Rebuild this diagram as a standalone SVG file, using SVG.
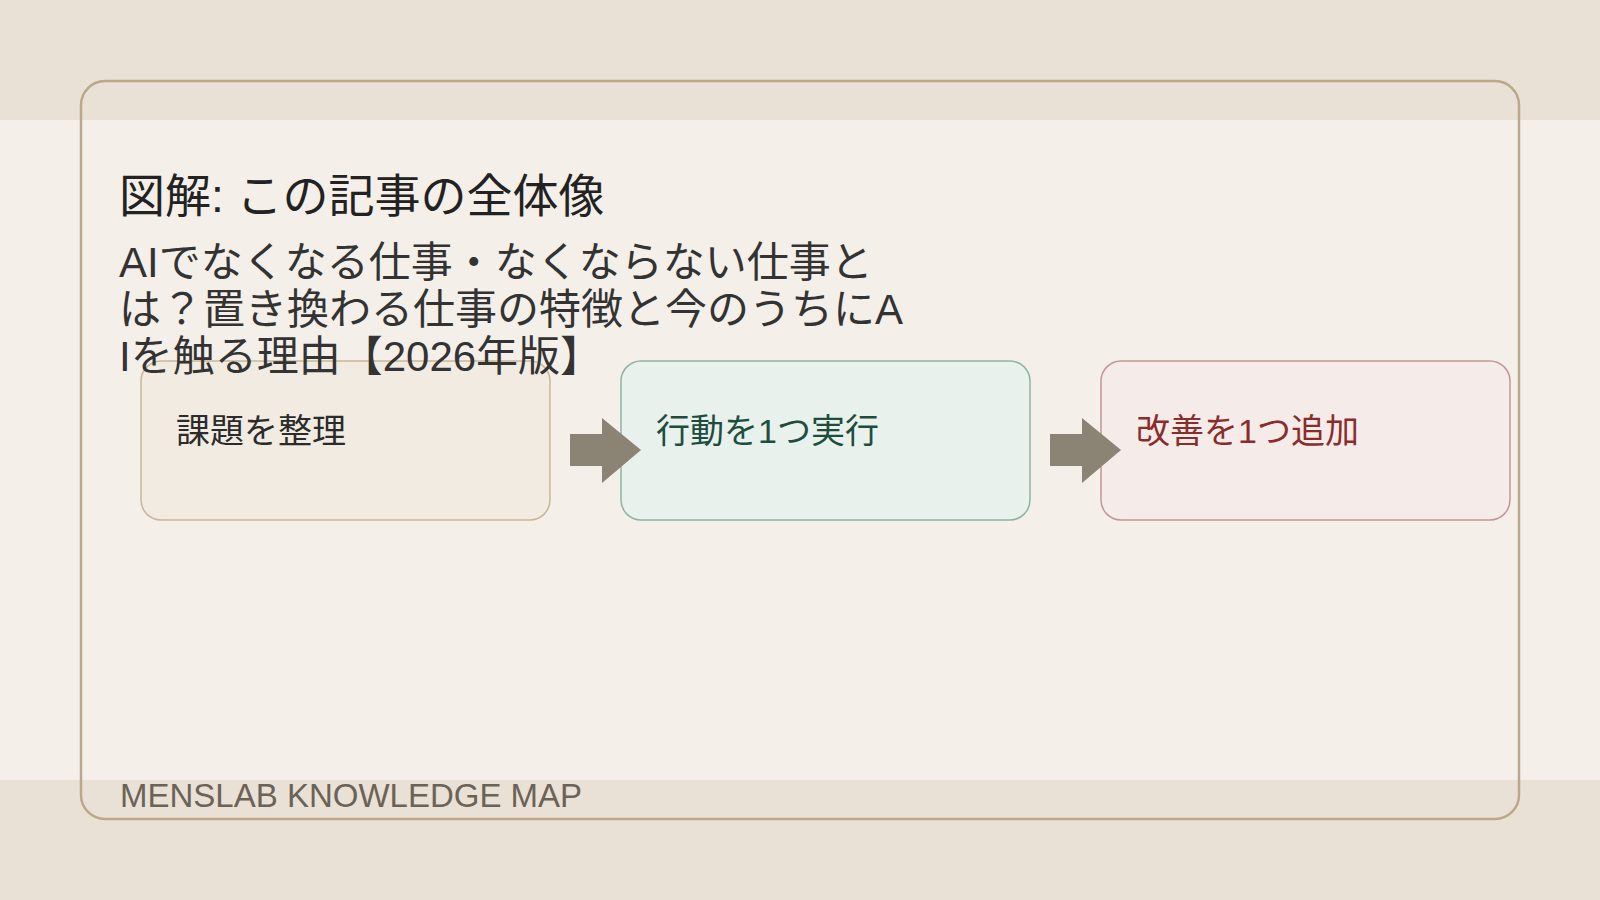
<svg xmlns="http://www.w3.org/2000/svg" width="1600" height="900" viewBox="0 0 1600 900">
  <style>
    text { font-family: "Liberation Sans", "Noto Sans CJK JP", sans-serif; }
    .title { font-size: 46px; fill: #222222; }
    .sub { font-size: 42px; fill: #333333; }
    .lbl { font-size: 34px; }
    .foot { font-size: 33px; fill: #6b6357; }
    .arrow { fill: #8b8374; }
  </style>
  <rect x="0" y="0" width="1600" height="900" fill="#e9e1d5"/>
  <rect x="0" y="120" width="1600" height="660" fill="#f4f0e9"/>
  <rect x="81" y="81" width="1438" height="738" rx="24" fill="none" stroke="#bba88a" stroke-width="2.5"/>
  <g id="node1">
    <rect x="141" y="361" width="409" height="159" rx="20" fill="#f1ebe1" stroke="#c9b697" stroke-width="1.5"/>
    <text class="lbl" x="176" y="443" fill="#2b2b2b">課題を整理</text>
  </g>
  <g id="node2">
    <rect x="621" y="361" width="409" height="159" rx="20" fill="#e8f1ec" stroke="#8fb3a3" stroke-width="1.5"/>
    <text class="lbl" x="656" y="443" fill="#1e4d3e">行動を1つ実行</text>
  </g>
  <g id="node3">
    <rect x="1101" y="361" width="409" height="159" rx="20" fill="#f5ecea" stroke="#c49595" stroke-width="1.5"/>
    <text class="lbl" x="1136" y="443" fill="#8a2c2c">改善を1つ追加</text>
  </g>
  <g id="connectors">
    <polygon class="arrow" points="570,434 602,434 602,418 641,450 602,483 602,466 570,466"/>
    <polygon class="arrow" points="1050,434 1082,434 1082,418 1121,450 1082,483 1082,466 1050,466"/>
  </g>
  <g id="title">
    <text class="title" x="119" y="212">図解: この記事の全体像</text>
    <text class="sub" x="119" y="277">AIでなくなる仕事・なくならない仕事と</text>
    <text class="sub" x="119" y="324">は？置き換わる仕事の特徴と今のうちにA</text>
    <text class="sub" x="119" y="371">Iを触る理由【2026年版】</text>
  </g>
  <g id="footer">
    <text class="foot" x="120" y="807">MENSLAB KNOWLEDGE MAP</text>
  </g>
</svg>
